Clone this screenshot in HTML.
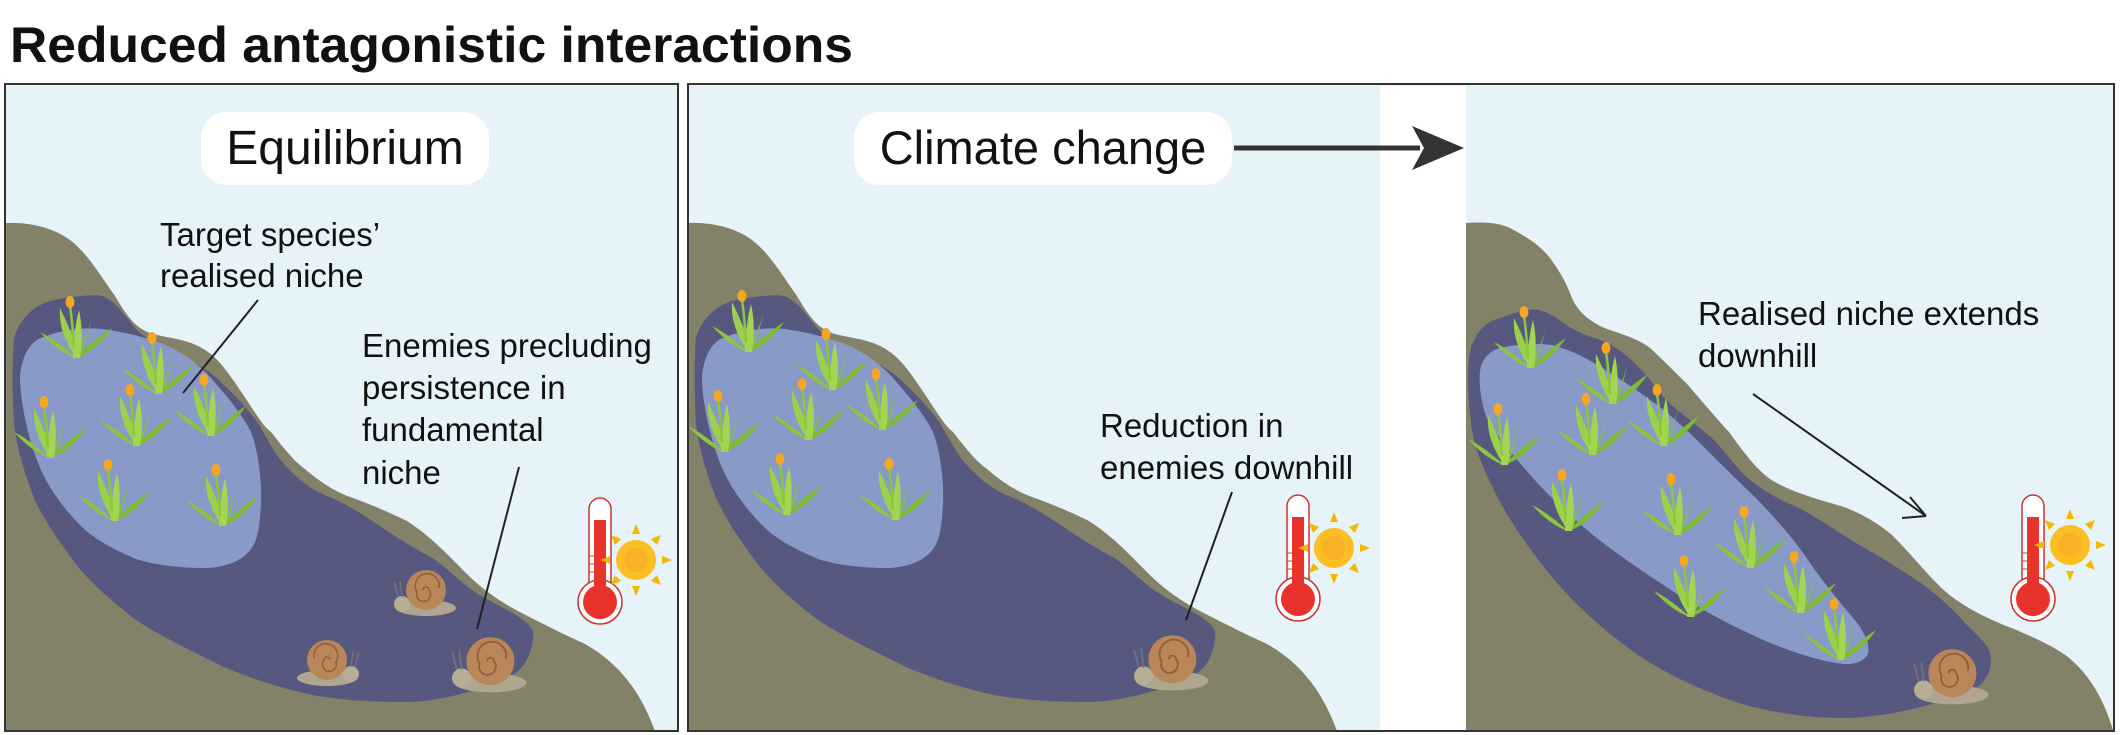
<!DOCTYPE html>
<html><head><meta charset="utf-8"><style>
html,body{margin:0;padding:0;background:#fff;}
svg{display:block;}
text{font-family:"Liberation Sans",sans-serif;fill:#111;}
</style></head><body>
<svg width="2128" height="735" viewBox="0 0 2128 735" xmlns="http://www.w3.org/2000/svg">
<defs>
<g id="pl">
  <path d="M0,0 Q-20,-18 -36,-26 Q-18,-6 0,0Z" fill="#8cc63f"/>
  <path d="M0,0 Q20,-20 36,-30 Q20,-6 0,0Z" fill="#7dbb32"/>
  <path d="M0,0 Q-18,-26 -16,-50 Q-4,-26 4,0Z" fill="#9bd14a"/>
  <path d="M0,0 Q14,-28 18,-50 Q12,-22 4,0Z" fill="#86c23a"/>
  <path d="M-3,0 Q-2,-30 3,-48 Q8,-25 4,0Z" fill="#a2d650"/>
  <path d="M-2,-10 Q-4,-40 -6,-52" stroke="#8cc63f" stroke-width="2.5" fill="none"/>
  <ellipse cx="-6" cy="-56" rx="4.5" ry="6" fill="#f5a623"/>
</g>
<g id="sn">
  <ellipse cx="2" cy="14" rx="30" ry="8" fill="#b0a68f"/>
  <circle cx="-22" cy="10" r="8" fill="#b8ae97"/>
  <path d="M-26,3 L-30,-12 M-22,3 L-24,-13" stroke="#777" stroke-width="1.2" fill="none"/>
  <circle cx="2" cy="-4" r="20" fill="#b9865a"/>
  <path d="M2,-4 m-3,0 a3,3 0 1,1 6,0 a7,7 0 1,1 -12,2 a12,12 0 1,1 22,-4" stroke="#8c6038" stroke-width="1.5" fill="none"/>
</g>
<g id="th">
  <rect x="-11" y="0" width="22" height="96" rx="11" fill="#fff" stroke="#c33" stroke-width="1.5"/>
  <circle cx="0" cy="104" r="22" fill="#fff" stroke="#c33" stroke-width="1.5"/>
  <circle cx="0" cy="104" r="17" fill="#e8322c"/>
  <rect x="-6" y="22" width="12" height="84" fill="#e8322c"/>
  <path d="M-11,58 h6 M-11,66 h6 M-11,74 h6" stroke="#c33" stroke-width="1"/>
</g>
<g id="sun">
  <g fill="#f5b800">
    <path d="M0,-36 L4,-26 L-4,-26Z"/><path d="M0,36 L4,26 L-4,26Z"/>
    <path d="M-36,0 L-26,4 L-26,-4Z"/><path d="M36,0 L26,4 L26,-4Z"/>
    <path d="M-25,-25 L-15,-21 L-21,-15Z"/><path d="M25,-25 L15,-21 L21,-15Z"/>
    <path d="M-25,25 L-15,21 L-21,15Z"/><path d="M25,25 L15,21 L21,15Z"/>
  </g>
  <circle r="20" fill="#fbbf24"/><circle r="12" fill="#f8a928" opacity="0.6"/>
</g>
<g id="scene">
  <path d="M5,223 L7,223 C30,222 54,228 70,240 C88,254 100,275 115,296 C128,318 135,327 150,333 C165,338 183,338 200,347 C215,355 224,366 240,390 C255,412 262,425 271,432 C285,450 295,462 305,469 C320,482 335,492 353,498 C375,506 395,515 407,521 C430,536 445,552 461,568 C480,588 498,600 516,610 C545,625 565,635 583,643 C600,652 615,665 624,676 C638,692 648,712 655,731 L5,731Z" fill="#838269"/>
  <path d="M14,338 C20,318 35,304 54,300 C75,296 95,294 102,296 C118,302 126,318 136,329 C150,342 165,350 183,357 C200,365 215,375 224,385 C240,400 250,412 258,423 C268,440 275,455 285,465 C300,482 315,492 332,498 C350,506 365,516 380,526 C400,540 418,550 434,559 C452,572 462,584 475,592 C492,603 505,608 516,615 C530,624 535,630 533,638 C532,650 528,660 522,667 C510,680 495,686 475,690 C455,696 430,702 407,702 C370,702 340,700 312,695 C280,688 250,678 224,667 C190,650 160,636 136,620 C110,600 90,582 75,563 C58,540 44,520 34,498 C24,472 16,445 14,423 C12,395 12,360 14,338Z" fill="#575880"/>
  <path d="M20,376 C22,356 30,342 41,338 C60,330 85,327 102,329 C125,332 150,338 170,347 C190,357 205,370 217,385 C232,402 244,418 251,432 C258,450 262,480 261,502 C260,525 258,540 251,549 C242,562 222,568 204,568 C180,568 155,565 136,559 C115,550 95,540 81,526 C65,510 50,490 41,470 C30,445 20,405 20,376Z" fill="#8a9ac8"/>
</g>
<clipPath id="c1"><rect x="5" y="84" width="673" height="647"/></clipPath>
<clipPath id="c2"><rect x="688" y="84" width="692" height="647"/></clipPath>
</defs>

<text x="10" y="62" font-size="50" font-weight="bold" fill="#000" textLength="843" lengthAdjust="spacingAndGlyphs">Reduced antagonistic interactions</text>

<!-- Panel 1 -->
<rect x="5" y="84" width="673" height="647" fill="#e6f4fa"/>
<g clip-path="url(#c1)">
  <use href="#scene"/>
  <use href="#pl" x="76" y="358"/><use href="#pl" x="158" y="394"/><use href="#pl" x="50" y="458"/>
  <use href="#pl" x="136" y="446"/><use href="#pl" x="210" y="436"/><use href="#pl" x="114" y="521"/><use href="#pl" x="222" y="526"/>
  <use href="#sn" x="424" y="594"/><use href="#sn" x="330" y="664" transform="translate(659,0) scale(-1,1)"/><use href="#sn" x="488" y="666" transform="translate(488,666) scale(1.2) translate(-488,-666)"/>
  <use href="#th" x="600" y="498"/><use href="#sun" x="636" y="560"/>
</g>
<rect x="5" y="84" width="673" height="647" fill="none" stroke="#333" stroke-width="2"/>
<rect x="201" y="112" width="288" height="73" rx="26" fill="#fff"/>
<text x="345" y="164" font-size="48" text-anchor="middle" fill="#000">Equilibrium</text>
<g font-size="33">
<text x="160" y="246">Target species’</text>
<text x="160" y="287">realised niche</text>
<text x="362" y="357">Enemies precluding</text>
<text x="362" y="399">persistence in</text>
<text x="362" y="441">fundamental</text>
<text x="362" y="484">niche</text>
</g>
<path d="M258,300 L183,393 M519,467 L477,629" stroke="#222" stroke-width="2"/>

<!-- Panel 2 -->
<rect x="688" y="84" width="1426" height="647" fill="#e6f4fa"/>
<rect x="1380" y="86" width="86" height="644" fill="#fff"/>
<g clip-path="url(#c2)">
  <use href="#scene" transform="translate(682,0)"/>
  <use href="#pl" x="748" y="352"/><use href="#pl" x="832" y="390"/><use href="#pl" x="724" y="452"/>
  <use href="#pl" x="808" y="440"/><use href="#pl" x="882" y="430"/><use href="#pl" x="786" y="515"/><use href="#pl" x="895" y="520"/>
  <use href="#sn" x="1170" y="664" transform="translate(1170,664) scale(1.2) translate(-1170,-664)"/>
  <use href="#th" x="1298" y="495"/><use href="#sun" x="1334" y="548"/>
</g>
<!-- Panel 3 -->
<path d="M1466,223 C1480,222 1498,222 1510,228 C1525,236 1539,244 1550,258 C1560,272 1566,282 1572,298 C1578,312 1590,322 1607,329 C1625,335 1640,340 1650,348 C1665,362 1678,375 1688,385 C1705,405 1718,420 1729,432 C1742,450 1755,468 1770,479 C1790,492 1820,500 1844,507 C1865,515 1880,525 1892,535 C1912,555 1930,578 1946,592 C1965,608 1990,620 2014,629 C2035,638 2055,647 2068,657 C2090,675 2104,700 2113,730 L1466,730Z" fill="#838269"/>
<path d="M1471,347 C1478,330 1488,320 1498,319 C1515,312 1530,308 1539,310 C1555,314 1563,324 1573,329 C1585,336 1598,338 1607,343 C1625,352 1637,365 1647,376 C1658,390 1665,400 1675,408 C1690,420 1705,432 1715,441 C1728,455 1738,470 1749,479 C1765,492 1780,500 1797,507 C1815,516 1835,530 1851,540 C1872,552 1892,564 1912,577 C1935,592 1952,608 1966,624 C1978,636 1988,645 1990,653 C1993,667 1988,678 1980,685 C1968,695 1950,700 1932,704 C1905,712 1870,718 1844,718 C1805,718 1770,712 1742,704 C1705,692 1670,676 1641,657 C1605,632 1575,605 1552,577 C1530,550 1512,525 1498,498 C1485,472 1474,450 1471,423 C1468,398 1466,370 1471,347Z" fill="#575880"/>
<path d="M1481,366 C1485,355 1494,348 1505,347 C1520,344 1538,343 1552,345 C1572,350 1590,360 1607,371 C1628,384 1645,396 1661,408 C1680,423 1695,438 1708,451 C1725,468 1742,485 1756,498 C1775,518 1795,540 1810,563 C1825,585 1845,608 1858,624 C1866,636 1870,646 1868,653 C1866,660 1856,665 1844,664 C1825,662 1805,656 1783,648 C1752,636 1720,620 1688,601 C1655,580 1622,558 1593,535 C1565,512 1543,490 1525,469 C1505,445 1490,428 1485,413 C1480,396 1478,378 1481,366Z" fill="#8a9ac8"/>
<use href="#pl" x="1530" y="368"/><use href="#pl" x="1612" y="404"/><use href="#pl" x="1504" y="465"/>
<use href="#pl" x="1592" y="455"/><use href="#pl" x="1663" y="446"/><use href="#pl" x="1568" y="531"/><use href="#pl" x="1677" y="535"/>
<use href="#pl" x="1750" y="568"/><use href="#pl" x="1690" y="617"/><use href="#pl" x="1800" y="613"/><use href="#pl" x="1840" y="660"/>
<use href="#sn" x="1950" y="678" transform="translate(1950,678) scale(1.2) translate(-1950,-678)"/>
<use href="#th" x="2033" y="495"/><use href="#sun" x="2070" y="545"/>
<rect x="688" y="84" width="1426" height="647" fill="none" stroke="#333" stroke-width="2"/>

<rect x="854" y="112" width="378" height="73" rx="26" fill="#fff"/>
<text x="1043" y="164" font-size="47" text-anchor="middle" fill="#000">Climate change</text>
<line x1="1234" y1="148" x2="1420" y2="148" stroke="#333" stroke-width="5"/>
<path d="M1464,148 L1412,126 L1424,148 L1412,170Z" fill="#333"/>

<g font-size="33">
<text x="1100" y="437">Reduction in</text>
<text x="1100" y="479">enemies downhill</text>
<text x="1698" y="325">Realised niche extends</text>
<text x="1698" y="367">downhill</text>
</g>
<path d="M1232,492 L1186,620" stroke="#222" stroke-width="2"/>
<path d="M1753,394 L1926,516 M1926,516 L1910,497 M1926,516 L1902,518" stroke="#222" stroke-width="2" fill="none"/>
</svg>
</body></html>
